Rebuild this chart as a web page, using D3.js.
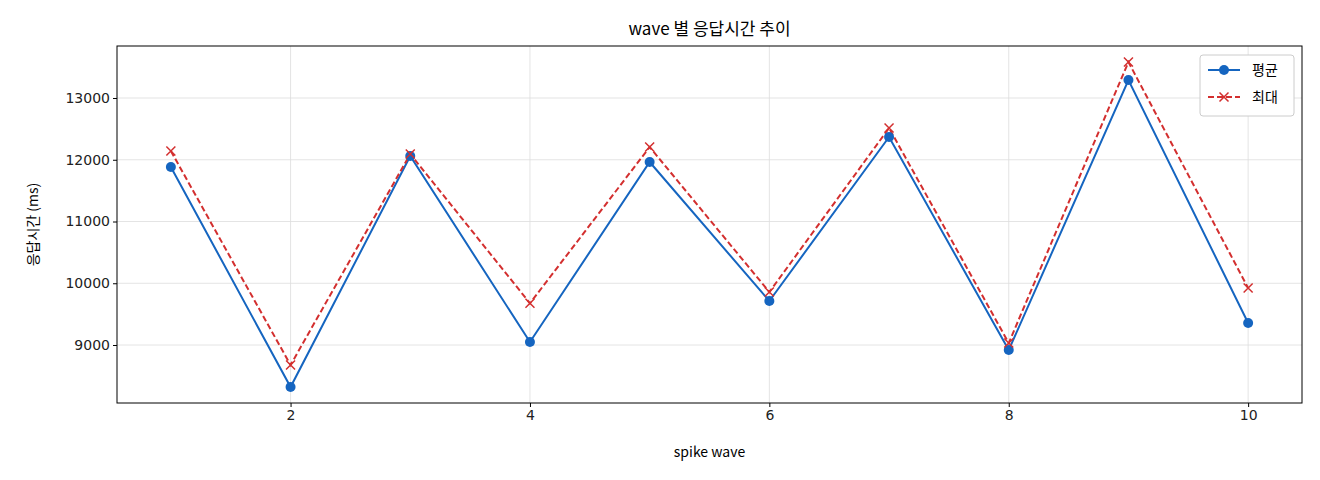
<!DOCTYPE html>
<html><head><meta charset="utf-8">
<script src="https://cdn.jsdelivr.net/npm/d3@7"></script>
<style>body{margin:0;background:#fff;font-family:"Noto Sans CJK KR","DejaVu Sans",sans-serif}</style>
</head><body>
<script>
const waves = [1,2,3,4,5,6,7,8,9,10]
const avgMs = [11883,8320,12061,9049,11964,9713,12368,8919,13291,9356]
const maxMs = [12142,8676,12093,9676,12206,9858,12514,9032,13583,9923]
const xTicks = [2,4,6,8,10]
const yTicks = [9000,10000,11000,12000,13000]

const W = 1320, H = 480
const m = {l:117, r:18, t:46, b:77}
const svg = d3.select("body").append("svg").attr("width", W).attr("height", H)
const x = d3.scaleLinear().domain([0.55,10.45]).range([m.l, W-m.r])
const y = d3.scaleLinear().domain([8061,13842]).range([H-m.b, m.t])

// grid
svg.append("g").selectAll("line").data(xTicks).join("line")
	.attr("x1", d=>x(d)).attr("x2", d=>x(d)).attr("y1", m.t).attr("y2", H-m.b)
	.attr("stroke", "#ddd").attr("stroke-width", 0.8)
svg.append("g").selectAll("line").data(yTicks).join("line")
	.attr("y1", d=>y(d)).attr("y2", d=>y(d)).attr("x1", m.l).attr("x2", W-m.r)
	.attr("stroke", "#ddd").attr("stroke-width", 0.8)

const xa = svg.append("g").attr("transform", `translate(0,${H-m.b})`)
	.call(d3.axisBottom(x).tickValues(xTicks).tickSize(4))
const ya = svg.append("g").attr("transform", `translate(${m.l},0)`)
	.call(d3.axisLeft(y).tickValues(yTicks).tickSize(4).tickFormat(d3.format("d")))
for (const a of [xa, ya]) {
	a.select(".domain").remove()
	a.selectAll("text").attr("font-size", 14).attr("fill", "#222").attr("font-family", "DejaVu Sans")
}
svg.append("rect").attr("x", m.l).attr("y", m.t).attr("width", W-m.l-m.r).attr("height", H-m.t-m.b)
	.attr("fill", "none").attr("stroke", "#000")

const line = d3.line().x((d,i)=>x(waves[i])).y(d=>y(d))
svg.append("path").datum(avgMs).attr("d", line).attr("fill", "none").attr("stroke", "#1565c0").attr("stroke-width", 2)
svg.append("path").datum(maxMs).attr("d", line).attr("fill", "none").attr("stroke", "#d32f2f").attr("stroke-width", 2).attr("stroke-dasharray", "6,3")
svg.append("g").selectAll("circle").data(avgMs).join("circle")
	.attr("cx", (d,i)=>x(waves[i])).attr("cy", d=>y(d)).attr("r", 5).attr("fill", "#1565c0")
const cross = (g, cx, cy) => g.append("path")
	.attr("d", `M${cx-4.5},${cy-4.5}L${cx+4.5},${cy+4.5}M${cx-4.5},${cy+4.5}L${cx+4.5},${cy-4.5}`)
	.attr("stroke", "#d32f2f").attr("stroke-width", 1.5)
const cg = svg.append("g")
maxMs.forEach((d,i)=>cross(cg, x(waves[i]), y(d)))

svg.append("text").attr("x", (m.l+W-m.r)/2).attr("y", 35).attr("text-anchor", "middle")
	.attr("font-size", 17).text("wave 별 응답시간 추이")
svg.append("text").attr("x", (m.l+W-m.r)/2).attr("y", 457).attr("text-anchor", "middle")
	.attr("font-size", 14).text("spike wave")
svg.append("text").attr("transform", `translate(38,${(m.t+H-m.b)/2}) rotate(-90)`).attr("text-anchor", "middle")
	.attr("font-size", 14).text("응답시간 (ms)")

// legend
const lg = svg.append("g").attr("transform", "translate(1200,55)")
lg.append("rect").attr("width", 94).attr("height", 61).attr("rx", 3).attr("fill", "#fff").attr("stroke", "#ccc")
lg.append("line").attr("x1", 8).attr("x2", 40).attr("y1", 15).attr("y2", 15).attr("stroke", "#1565c0").attr("stroke-width", 2)
lg.append("circle").attr("cx", 24).attr("cy", 15).attr("r", 5).attr("fill", "#1565c0")
lg.append("line").attr("x1", 8).attr("x2", 40).attr("y1", 42).attr("y2", 42).attr("stroke", "#d32f2f").attr("stroke-width", 2).attr("stroke-dasharray", "6,3")
cross(lg, 24, 42)
lg.append("text").attr("x", 52).attr("y", 20).attr("font-size", 14).text("평균")
lg.append("text").attr("x", 52).attr("y", 47).attr("font-size", 14).text("최대")
</script>
</body></html>
